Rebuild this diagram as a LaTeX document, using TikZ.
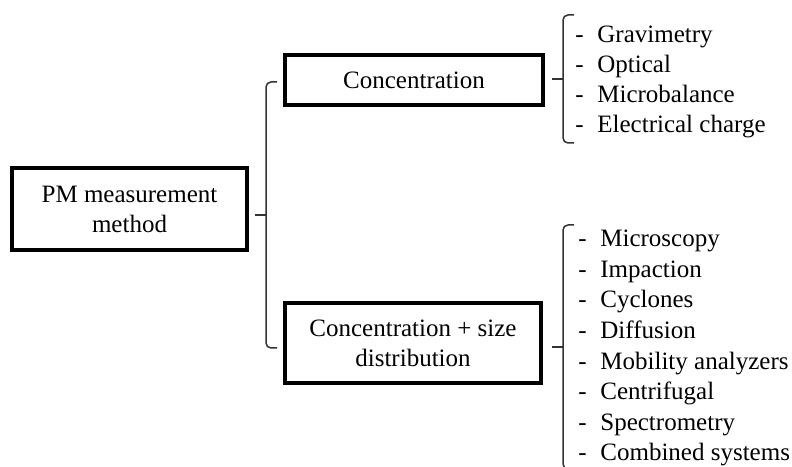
\documentclass[tikz,border=0pt]{standalone}
\usepackage{fontspec}
\setmainfont{Liberation Serif}
\usetikzlibrary{calc}
\tikzset{
  mainbox/.style={draw, line width=1.8pt, align=center, inner sep=2pt},
  bracket/.style={draw=black!80, line width=0.75pt, rounded corners=2.5pt},
  listitem/.style={anchor=base west, inner sep=0pt},
}
\newcommand{\dashitem}[1]{\makebox[11pt][l]{-}#1}
\begin{document}
\begin{tikzpicture}[x=0.5pt,y=0.5pt,font=\fontsize{12.5}{15}\selectfont]
\useasboundingbox (0,0) rectangle (792,466);
\clip (0,0) rectangle (792,466);
% boxes
\node[mainbox, minimum width=117.5pt, minimum height=41pt] (pm) at (129.5,257) {PM measurement\\method};
\node[mainbox, minimum width=129pt, minimum height=25pt] (conc) at (414,386) {Concentration};
\node[mainbox, minimum width=128pt, minimum height=40pt] (concsize) at (413,123) {Concentration + size\\distribution};
% bracket tips
\coordinate (pmtip) at (255,251);
\coordinate (conctip) at (552,387);
\coordinate (sizetip) at (552,119);
% brackets
\draw[bracket] ($(pmtip)+(22,133)$) -| ($(pmtip)+(11,0)$) |- ($(pmtip)+(22,-133)$);
\draw[bracket, sharp corners] (pmtip) -- ($(pmtip)+(11,0)$);
\draw[bracket] ($(conctip)+(22,64)$) -| ($(conctip)+(11,0)$) |- ($(conctip)+(22,-64)$);
\draw[bracket, sharp corners] (conctip) -- ($(conctip)+(11,0)$);
\draw[bracket] ($(sizetip)+(22,122)$) -| ($(sizetip)+(11,0)$) |- ($(sizetip)+(22,-122)$);
\draw[bracket, sharp corners] (sizetip) -- ($(sizetip)+(11,0)$);
% concentration methods
\node[listitem] (grav) at (575,423) {\dashitem{Gravimetry}};
\node[listitem] (opt) at (575,393) {\dashitem{Optical}};
\node[listitem] (micro) at (575,363) {\dashitem{Microbalance}};
\node[listitem] (elec) at (575,333) {\dashitem{Electrical charge}};
% size distribution methods
\node[listitem] (mic) at (578,219) {\dashitem{Microscopy}};
\node[listitem] (imp) at (578,188.5) {\dashitem{Impaction}};
\node[listitem] (cyc) at (578,158) {\dashitem{Cyclones}};
\node[listitem] (diff) at (578,127.5) {\dashitem{Diffusion}};
\node[listitem] (mob) at (578,97) {\dashitem{Mobility analyzers}};
\node[listitem] (cent) at (578,66.5) {\dashitem{Centrifugal}};
\node[listitem] (spec) at (578,36) {\dashitem{Spectrometry}};
\node[listitem] (comb) at (578,5.5) {\dashitem{Combined systems}};
\end{tikzpicture}
\end{document}
